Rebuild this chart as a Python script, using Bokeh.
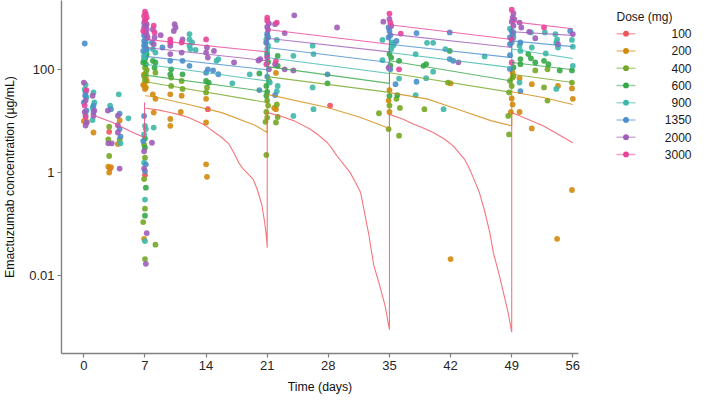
from bokeh.plotting import figure
from bokeh.models import FixedTicker, Range1d, CustomJSTickFormatter
from bokeh.layouts import row
from bokeh.embed import file_html
from bokeh.resources import INLINE
from bokeh.core.properties import value

FONT = "Liberation Sans"

doses = ["100", "200", "400", "600", "900", "1350", "2000", "3000"]
colors = ["#F2525C", "#D3890E", "#74A824", "#35A847", "#3DB8AA", "#4A8FCB", "#A05DB9", "#E9439A"]

x_ticks = [0, 7, 14, 21, 28, 35, 42, 49, 56]
y_ticks = [0.01, 1, 100]

# ---------------- observed concentrations (day, ug/mL) ----------------
t_100 = [2.9, 3.0, 7.0, 14.2, 28.2]
c_100 = [6.2, 1.2, 0.9, 17, 20]

t_200 = [0.0, 0.35, 1.1, 2.8, 3.1, 2.9, 4.1, 3.9, 6.9, 7.1, 6.9, 7.1, 7.0, 6.9, 7.2, 6.8,
         7.9, 8.2, 8.0, 9.9, 11.2, 9.9, 9.9, 11.1, 14.0, 14.0, 14.0, 14.1,
         22.0, 21.8, 22.0, 35.0, 34.9, 35.0, 42.0, 42.0, 49.1, 49.2, 49.0, 49.1, 48.9,
         49.9, 49.9, 51.3, 51.3, 54.3, 54.2, 55.9, 56.0, 55.9]
c_200 = [10, 9.6, 6.0, 1.3, 1.28, 1.0, 10.3, 3.6, 81, 70, 52, 45, 42, 0.052, 60, 50,
         33, 27, 14.6, 33, 31, 11, 8.1, 15, 27, 9.4, 1.45, 0.83,
         86, 18, 17, 40, 25, 15, 54, 0.021, 87, 75, 27.5, 21, 15,
         68, 15, 52, 7.2, 48, 0.052, 43, 27, 0.46]

t_400 = [2.9, 2.8, 2.9, 4.1, 7.0, 7.2, 7.0, 7.1, 6.9, 6.9, 7.0, 6.9, 7.0, 6.8, 7.0, 8.2,
         8.2, 10.0, 11.2, 10.0, 11.3, 14.1, 14.0, 21.0, 21.1, 20.9, 21.0, 20.8, 20.9, 21.2,
         22.1, 22.2, 22.0, 33.8, 35.0, 34.9, 35.8, 36.2, 36.1, 39.0, 41.7,
         48.8, 49.0, 48.7, 48.6, 48.7, 49.1, 51.7, 53.1, 52.7, 53.1, 55.9]
c_400 = [7.8, 4.4, 2.1, 4.4, 109, 99, 63, 85, 75, 3.5, 1.95, 0.75, 0.2, 0.11, 0.021, 0.040,
         87, 70, 60, 48, 42, 45, 36, 25, 20, 15, 11.7, 9.7, 2.2, 60,
         21, 12, 9.4, 14.2, 20, 7.0, 27, 18, 5.2, 17, 56,
         60, 48, 36, 12.6, 5.5, 70, 96, 101, 45, 25, 56]

t_600 = [7.2, 7.0, 6.8, 7.1, 7.1, 6.9, 7.0, 7.0, 7.1, 7.0, 7.9, 8.2, 8.1, 10.0, 9.9, 11.3,
         14.0, 14.3, 20.1, 21.0, 20.9, 21.0, 20.9, 21.1, 22.2, 22.2, 27.9, 35.0, 35.2, 35.0,
         35.1, 36.1, 35.9, 38.9, 39.2, 41.9, 49.2, 50.0, 50.0, 50.9, 51.2, 51.7, 52.7, 53.2,
         54.5, 55.9]
c_600 = [200, 160, 137, 127, 180, 150, 4.6, 3.06, 0.51, 0.146, 148, 137, 109, 101, 81, 81,
         60, 56, 84, 205, 48, 37, 31, 140, 185, 118, 54, 200, 171, 31,
         120, 148, 32, 118, 127, 230, 110, 160, 127, 200, 165, 137, 148, 127,
         96, 96]

t_900 = [0.2, 0.1, 0.3, 0.2, 1.1, 1.2, 1.0, 1.0, 3.0, 4.0, 4.2, 5.1,
         7.1, 7.1, 7.0, 6.9, 7.0, 7.2, 6.9, 7.0, 7.1, 6.9, 6.9, 7.0, 7.0, 7.9, 8.2, 8.0,
         12.1, 12.1, 12.4, 12.1, 12.2, 12.8, 15.2, 15.4, 17.0, 19.0,
         21.0, 20.9, 21.1, 21.0, 21.3, 20.9, 22.1, 22.2, 22.1, 24.0, 24.0,
         26.2, 26.3, 26.2, 26.3, 34.2, 34.2, 35.3, 35.4, 35.2, 35.5, 36.1,
         38.0, 38.0, 40.0, 39.2, 39.3, 40.0, 41.2, 41.4, 45.9,
         48.8, 49.2, 49.0, 49.2, 49.9, 50.0, 49.9, 51.3, 51.2, 52.8, 52.9,
         54.0, 54.2, 54.1, 54.3, 54.1, 55.9, 56.0, 56.0]
c_900 = [51, 41, 29, 13, 36, 23, 18, 10.5, 20, 33, 3.7, 11.3,
         335, 268, 214, 185, 300, 240, 170, 8.1, 7.0, 5.5, 1.56, 0.30, 0.047, 250, 214, 7.5,
         487, 385, 335, 290, 250, 240, 148, 160, 54, 81,
         460, 385, 290, 250, 56, 330, 375, 48, 38, 185, 12.6,
         290, 200, 45, 17, 375, 152, 335, 290, 250, 310, 67,
         200, 32, 91, 68, 330, 330, 17, 250, 180,
         620, 525, 335, 420, 290, 230, 56, 268, 525, 525, 205,
         487, 385, 335, 268, 42, 375, 278, 118]

t_1350 = [0.1, 0.2, 0.0, 0.3, 0.15, 1.1, 1.1, 3.1, 4.1, 4.1, 4.2,
          6.9, 6.9, 6.9, 6.8, 7.1, 7.0, 7.2, 6.9, 6.8, 7.1, 7.0, 7.8, 9.0, 9.9, 11.3, 12.1,
          14.2, 14.0, 14.8, 15.4, 20.1, 21.0, 20.9, 21.0, 21.0, 21.1, 21.9, 27.9,
          34.9, 35.1, 34.9, 35.1, 35.0, 35.8, 35.7, 38.1, 38.1, 41.9, 41.9, 42.3,
          49.0, 48.8, 48.8, 48.8, 48.8, 49.1, 50.0, 50.0, 55.7]
c_1350 = [320, 36, 23, 16, 31, 20, 15, 17, 14, 7, 5,
          460, 360, 290, 230, 400, 320, 250, 12.6, 4.1, 1.45, 1.07, 335, 268, 148, 148, 118,
          101, 87, 96, 81, 40, 500, 335, 185, 73, 420, 32, 81,
          655, 465, 420, 101, 560, 360, 52, 510, 58, 525, 160, 148,
          560, 420, 310, 190, 103, 480, 335, 38, 560]

t_2000 = [0.0, 0.2, 0.1, 0.3, 0.2, 1.0, 1.2, 1.1, 2.75, 2.8, 3.2,
          3.9, 3.9, 3.9, 4.1, 7.0, 7.2, 6.9, 7.2, 7.0, 7.3, 7.1, 6.9, 7.2, 6.9, 6.9, 7.2, 7.1,
          7.9, 8.1, 8.0, 7.8, 8.8, 10.4, 10.5, 10.3, 11.3, 9.9, 11.2, 9.9,
          14.1, 14.0, 14.2, 14.9, 17.2, 20.0, 20.2, 21.0, 21.1, 21.2, 21.2, 21.9, 21.9,
          23.0, 23.0, 24.0, 24.1, 29.0, 34.3, 35.0, 35.2, 34.9, 42.9,
          49.2, 49.1, 49.0, 49.2, 49.3, 49.9, 50.1, 51.0, 51.7, 54.3, 56.0]
c_2000 = [56, 25, 15, 9.4, 8.2, 31, 16, 12.7, 16, 3.7, 3.7,
          12.7, 8.3, 6.0, 1.2, 890, 760, 655, 600, 525, 420, 700, 800, 480, 2.6, 1.2, 0.067, 0.017,
          600, 420, 310, 3.8, 465, 760, 655, 560, 385, 290, 214, 200,
          268, 214, 171, 230, 137, 150, 160, 670, 590, 101, 780, 760, 127,
          510, 101, 96, 1130, 655, 850, 960, 700, 109, 138,
          1230, 1020, 850, 710, 950, 815, 655, 540, 405, 310, 487]

t_3000 = [0.1, 0.2, 0.3, 7.0, 7.1, 7.2, 6.8, 6.9, 7.0, 8.0, 8.1, 9.9, 9.9, 11.2, 14.0,
          21.0, 21.0, 21.0, 20.9, 22.1, 22.0, 35.0, 35.1, 36.1, 36.3,
          49.0, 49.0, 49.0, 52.7]
c_3000 = [20, 12, 40, 1330, 1190, 1020, 560, 1100, 900, 710, 525, 385, 335, 335, 385,
          1020, 890, 171, 127, 815, 148, 1220, 815, 101, 500,
          1450, 385, 137, 655]

# ---------------- model predictions (day, ug/mL) ----------------
pred_t_first = [1.1, 3.3, 5.6, 6.95, 6.95]
pred_c_first = [13, 9.4, 6.0, 4.8, 23]

pred_t_100 = [7.05, 8.5, 10, 11, 12, 12.8, 13.5, 14.0, 15.0, 15.8, 16.6, 17.2, 17.7, 18.2,
              18.8, 19.4, 19.9, 20.4, 20.7, 20.9, 21.0,
              21.0, 22.5, 24.1, 25.9, 26.9, 27.9, 28.5, 29.0, 30.5, 31.1, 31.7, 32.2, 32.6,
              33.2, 33.9, 34.5, 35.0,
              35.0, 36.5, 37.8, 39.0, 40.0, 41.2, 42.3, 42.9, 43.6, 44.0, 44.6, 45.3, 45.9,
              46.5, 46.9, 47.6, 48.6, 49.0,
              49.0, 52.6, 56.0]
pred_c_100 = [17.8, 16.5, 14.5, 13.2, 11.7, 10.2, 9.0, 8.0, 6.0, 4.8, 3.6, 2.4, 1.6, 1.2,
              0.95, 0.74, 0.45, 0.23, 0.11, 0.06, 0.035,
              14.6, 12.6, 10.1, 7.0, 5.3, 3.8, 2.8, 2.1, 1.0, 0.65, 0.41, 0.15, 0.068,
              0.016, 0.0063, 0.0026, 0.0009,
              13.5, 11, 8.7, 7.2, 6.0, 4.6, 3.3, 2.5, 1.8, 1.36, 0.8, 0.41, 0.18,
              0.068, 0.028, 0.0099, 0.0019, 0.0008,
              14.6, 8.1, 3.8]

pred_t_200 = [7.05, 7.9, 12, 15.8, 19.6, 21.0, 21.0, 27.9, 31.7, 35.0,
              35.0, 39.3, 42.8, 46.6, 49.0, 49.0, 52.6, 56.0]
pred_c_200 = [31, 30, 21, 14.6, 8.3, 6.0, 33, 18.3, 11.7, 7.2,
              35.7, 27, 17, 10.2, 8.1, 37, 28.6, 21]

pred_t_std = [7.05, 21, 21, 35, 35, 49, 49, 56]
pred_c_400 = [58, 22.9, 73, 36, 87, 36, 81, 56]
pred_c_600 = [78, 37, 114, 54, 148, 60, 137, 99]
pred_c_900 = [127, 60, 171, 84, 214, 109, 250, 164]
pred_c_1350 = [180, 99, 268, 137, 310, 171, 360, 278]
pred_c_2000 = [268, 148, 405, 220, 487, 268, 540, 460]
pred_c_3000 = [385, 220, 600, 310, 740, 385, 850, 620]

obs_t = [t_100, t_200, t_400, t_600, t_900, t_1350, t_2000, t_3000]
obs_c = [c_100, c_200, c_400, c_600, c_900, c_1350, c_2000, c_3000]
pred_t = [pred_t_100, pred_t_200] + [pred_t_std] * 6
pred_c = [pred_c_100, pred_c_200, pred_c_400, pred_c_600, pred_c_900,
          pred_c_1350, pred_c_2000, pred_c_3000]

# ---------------- main plot ----------------
p = figure(width=590, height=397, y_axis_type="log",
           x_range=Range1d(-2.56, 56.65), y_range=Range1d(10 ** -3.51, 10 ** 3.34),
           output_backend="svg", toolbar_location=None,
           min_border_left=57, min_border_right=12, min_border_top=0, min_border_bottom=44)
p.grid.grid_line_color = None
p.outline_line_color = None
p.background_fill_color = "white"

for ts, cs, col in zip(obs_t, obs_c, colors):
    p.scatter(ts, cs, size=5.8, fill_color=col, line_color=None, fill_alpha=0.9)

p.line(pred_t_first, pred_c_first, line_color="#EA4C85", line_width=1.1, line_alpha=0.85)
for ts, cs, col in zip(pred_t, pred_c, colors):
    p.line(ts, cs, line_color=col, line_width=1.1, line_alpha=0.8)

p.xaxis.ticker = FixedTicker(ticks=x_ticks)
p.yaxis.ticker = FixedTicker(ticks=y_ticks)
p.yaxis.formatter = CustomJSTickFormatter(code="return String(tick);")
for ax in (p.xaxis, p.yaxis):
    ax.axis_line_color = "#808080"
    ax.axis_line_width = 1.4
    ax.major_tick_line_color = "#808080"
    ax.major_tick_line_width = 1.2
    ax.major_tick_out = 4
    ax.major_tick_in = 0
    ax.minor_tick_line_color = None
    ax.major_label_text_font = FONT
    ax.major_label_text_font_size = "13px"
    ax.major_label_text_color = "#262626"
    ax.major_label_standoff = 3
    ax.axis_label_text_font = FONT
    ax.axis_label_text_font_size = "12.3px"
    ax.axis_label_text_font_style = "normal"
    ax.axis_label_text_color = "#111111"
p.xaxis.axis_label = "Time (days)"
p.yaxis.axis_label = "Emactuzumab concentration (\u00b5g/mL)"
p.xaxis.axis_label_standoff = 7
p.yaxis.axis_label_standoff = 9

# ---------------- legend panel ----------------
q = figure(width=103, height=397, x_range=Range1d(0, 103), y_range=Range1d(397, 0),
           output_backend="svg", toolbar_location=None,
           x_axis_location=None, y_axis_location=None, min_border=0)
q.grid.grid_line_color = None
q.outline_line_color = None

ys = [37.3 + 19.4 * i for i in range(len(doses))]
q.segment(x0=[26] * len(doses), x1=[45] * len(doses), y0=ys, y1=ys,
          line_color=colors, line_width=1.5, line_alpha=0.5)
q.scatter(x=[35.5] * len(doses), y=ys, size=5.8, fill_color=colors, line_color=None)
q.text(x=[101] * len(doses), y=ys, text=doses, text_align="right", text_baseline="middle",
       text_font=value(FONT), text_font_size="12px", text_color="#1a1a1a")
q.text(x=[26], y=[18], text=["Dose (mg)"], text_align="left", text_baseline="middle",
       text_font=value(FONT), text_font_size="12px", text_color="#1a1a1a")

layout = row(p, q)
open("out.html", "w").write(file_html(layout, INLINE))
